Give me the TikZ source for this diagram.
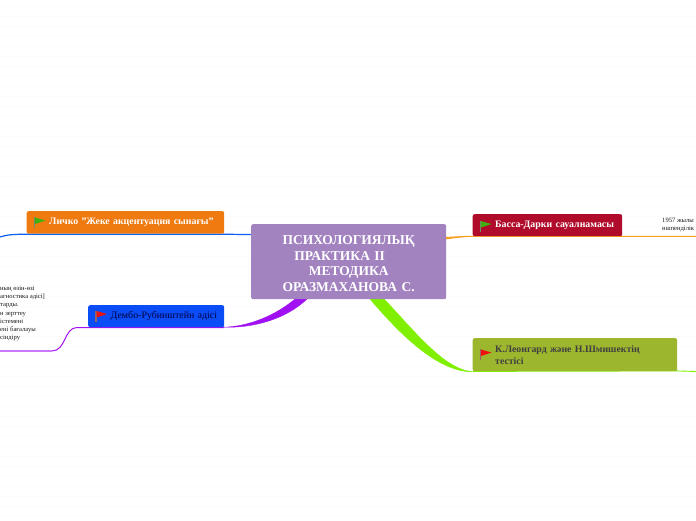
\documentclass[tikz,border=0pt]{standalone}
\usepackage{fontspec}
\usetikzlibrary{backgrounds}
\setmainfont{Liberation Serif}
\newcommand{\ind}{\hspace*{22.5pt}}
\newcommand{\tl}[1]{\raisebox{-1pt}{#1}}
\newcommand{\tc}[1]{\raisebox{-2pt}[\height][0pt]{#1}}
\newcommand{\flagmark}[3]{%
  \fill[gray!75!#3] (#1-0.6,#2) rectangle (#1+0.6,#2+11);
  \fill[#3] (#1+0.5,#2+0.5) -- (#1+11,#2+3.5) -- (#1+0.5,#2+7) -- cycle;}
\tikzset{x=1pt,y=-1pt,
  box/.style={rectangle,rounded corners=2pt,anchor=north west,inner sep=0pt,align=left,font=\bfseries\fontsize{9.85}{12}\selectfont},
  small/.style={inner sep=0pt,align=left,anchor=north west,text=black!90,font=\fontsize{6.6}{8.2}\selectfont},
  stripe/.style={draw=black!1.5,line width=1pt}}
\definecolor{cCentre}{HTML}{A283C0}
\definecolor{cOrange}{HTML}{EE7A10}
\definecolor{cBlue}{HTML}{0A4CF5}
\definecolor{cCrimson}{HTML}{B00B2B}
\definecolor{cOlive}{HTML}{9CB72E}
\definecolor{cGreen}{HTML}{80F000}
\definecolor{cPurple}{HTML}{A010F0}
\definecolor{cLilac}{HTML}{CC77FF}
\definecolor{cLineBlue}{HTML}{0A60F0}
\definecolor{cLineOrange}{HTML}{F8A020}
\definecolor{cFlagGreen}{HTML}{40B010}
\definecolor{cFlagRed}{HTML}{EE1111}
\begin{document}
\begin{tikzpicture}
\useasboundingbox (0,0) rectangle (696,520);
\clip (0,0) rectangle (696,520);
\node[box,fill=cCentre,text=white,minimum width=195pt,minimum height=75pt,text width=195pt,align=center,font=\bfseries\fontsize{13.5}{15.6}\selectfont] (centre) at (251,224) {\tc{ПСИХОЛОГИЯЛЫҚ}\\\tc{ПРАКТИКА II\hspace{18pt}}\\\tc{МЕТОДИКА}\\\tc{ОРАЗМАХАНОВА С.}};
\node[box,fill=cOrange,text=white,minimum width=197.5pt,minimum height=22.5pt,text width=197.5pt] (orangebox) at (26.5,211) {\ind\tl{Личко "Жеке акцентуация сынағы"}};
\node[box,fill=cBlue,text=black!75!blue,minimum width=136pt,minimum height=22pt,text width=136pt,font=\fontsize{9.9}{12}\selectfont] (bluebox) at (88,305) {\ind\tl{Дембо-Рубинштейн әдісі}};
\node[box,fill=cCrimson,text=white,minimum width=149.5pt,minimum height=22pt,text width=149.5pt] (crimsonbox) at (472.5,214) {\ind\tl{Басса-Дарки сауалнамасы}};
\node[box,fill=cOlive,text=black!75,minimum width=204.5pt,minimum height=33pt,text width=204.5pt] (olivebox) at (472.5,338) {\ind\tl{К.Леонгард және Н.Шмишектің}\\\ind\tl{тестісі}};
\node[small] (lefttext) at (0,286) {ның өзін-өзі\\агностика әдісі]\\тарды.\\н зерттеу\\істемені\\ені бағалауы\\сіндіру};
\node[small] (righttext) at (662,218) {1957 жылы\\өшпенділік};
\coordinate (blueend) at (0,237);
\coordinate (greenend) at (696,371.5);
\coordinate (lilacend) at (0,351);
\coordinate (lilacstart) at (52,351);
\begin{scope}[on background layer]
\fill[white] (0,0) rectangle (696,520);
\foreach \k in {0,...,52} {\draw[stripe] (0,6.7+10*\k) -- (696,6.7+10*\k);}
\draw[cLineBlue,line width=1.2pt] (centre.west |- 0,234.6) -- (224,234.2) -- (27,234.2) .. controls (12,234.2) and (6,235) .. (blueend);
\fill[cLineOrange] (446,237) .. controls (456,236.4) and (464,235.8) .. (472.5,235.8) -- (696,235.8) -- (696,236.8) -- (472.5,236.8) .. controls (464,237) and (456,238) .. (446,239.4) -- cycle;
\filldraw[cGreen,line width=0.4pt] (370,299) .. controls (398,332) and (437,372) .. (472,371.7) .. controls (443,369) and (412,328) .. (384,299) -- cycle;
\draw[cGreen,line width=0.9pt] (olivebox.south west) -- ([yshift=0.5pt]olivebox.south east) -- (greenend);
\filldraw[cPurple,line width=0.4pt] (295,299) .. controls (275,316) and (248,326.5) .. (224,327.2) .. controls (252,328) and (285,320) .. (307,299) -- cycle;
\draw[cPurple,line width=1pt] (224,327.5) -- (77,327.5) .. controls (64,327.5) and (66,351) .. (lilacstart);
\draw[cLilac,line width=2pt] (lilacstart) -- (lilacend);
\end{scope}
\flagmark{34.5}{217}{cFlagGreen}
\flagmark{96}{310.5}{cFlagRed}
\flagmark{480.5}{220.5}{cFlagGreen}
\flagmark{480.5}{349}{cFlagRed}
\end{tikzpicture}
\end{document}
